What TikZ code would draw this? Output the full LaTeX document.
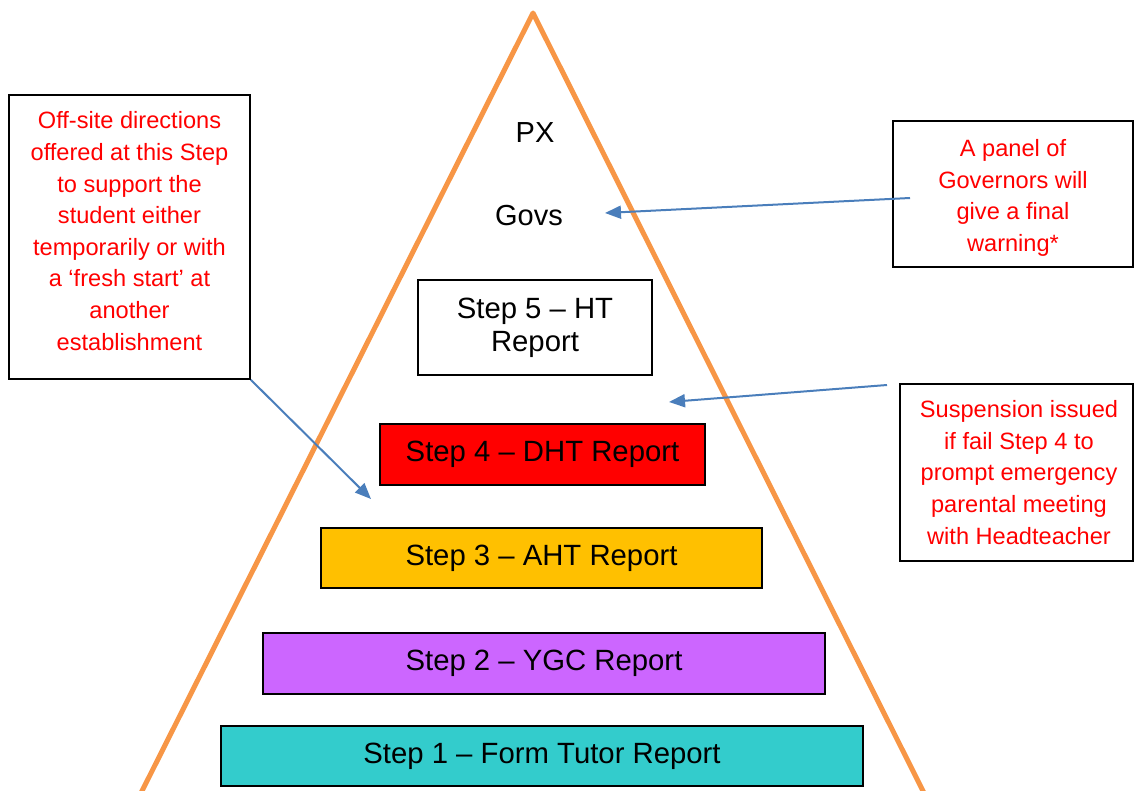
\documentclass[tikz,border=0pt]{standalone}
\usepackage{fontspec}
\setmainfont{Liberation Sans}
\usetikzlibrary{arrows.meta}
\definecolor{tri}{HTML}{F79646}
\definecolor{arr}{HTML}{4A7EBB}
\definecolor{sfour}{HTML}{FF0000}
\definecolor{sthree}{HTML}{FFC000}
\definecolor{stwo}{HTML}{CC66FF}
\definecolor{sone}{HTML}{33CCCC}
\definecolor{redtxt}{HTML}{FF0000}
\tikzset{
  stepbox/.style={draw=black, line width=2pt, inner sep=0pt, font=\fontsize{29.3}{33}\selectfont, align=center},
  notebox/.style={draw=black, line width=1.5pt, fill=white, inner sep=0pt},
  notetext/.style={inner sep=0pt, text=redtxt, font=\fontsize{23.6}{31.6}\selectfont, align=center},
  plain/.style={inner sep=0pt, font=\fontsize{29}{33}\selectfont},
  conn/.style={arr, line width=2pt, -{Triangle[length=16pt,width=13pt]}}
}
\begin{document}
\begin{tikzpicture}[x=1pt,y=-1pt]
\useasboundingbox (0,0) rectangle (1134,791);
\draw[tri, line width=5pt, line join=round] (141,793) -- (533,13) -- (924,793);
\node[plain] (px) at (535,133) {PX};
\node[plain] (govs) at (529,216) {Govs};
\node[stepbox, fill=white, minimum width=234, minimum height=95] (s5) at (535,327.5) {Step 5 -- HT\\Report};
\node[stepbox, fill=sfour, minimum width=325, minimum height=61] (s4) at (542.5,454.5) {Step 4 -- DHT Report};
\node[stepbox, fill=sthree, minimum width=441, minimum height=60] (s3) at (541.5,558) {Step 3 -- AHT Report};
\node[stepbox, fill=stwo, minimum width=562, minimum height=61] (s2) at (544,663.5) {Step 2 -- YGC Report};
\node[stepbox, fill=sone, minimum width=642, minimum height=60] (s1) at (542,756) {Step 1 -- Form Tutor Report};
\node[notebox, minimum width=241, minimum height=284] (lb) at (129.5,237) {};
\node[notetext] (lbt) at (129.5,231) {Off-site directions\\offered at this Step\\to support the\\student either\\temporarily or with\\a ‘fresh start’ at\\another\\establishment};
\node[notebox, minimum width=240, minimum height=146] (rb1) at (1013,194) {};
\node[notetext] (rb1t) at (1013,198) {A panel of\\Governors will\\give a final\\warning*};
\node[notebox, minimum width=233, minimum height=177] (rb2) at (1016.5,472.5) {};
\node[notetext] (rb2t) at (1019,472.5) {Suspension issued\\if fail Step 4 to\\prompt emergency\\parental meeting\\with Headteacher};
\coordinate (a1s) at (910,198);
\coordinate (a1e) at (605,213);
\coordinate (a2s) at (887,385);
\coordinate (a2e) at (669,402);
\coordinate (a3e) at (371,499);
\draw[conn] (a1s) -- (a1e);
\draw[conn] (a2s) -- (a2e);
\draw[conn] (lb.south east) -- (a3e);
\end{tikzpicture}
\end{document}
